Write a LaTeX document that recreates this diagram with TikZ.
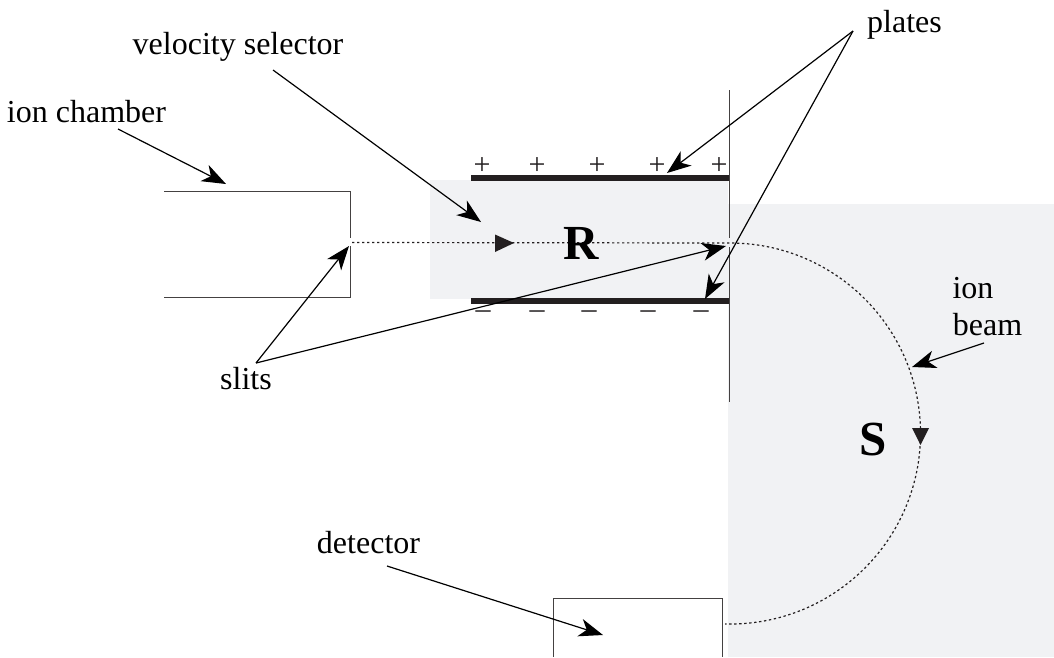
\documentclass[tikz,border=0pt]{standalone}
\usepackage{fontspec}
\setmainfont{Liberation Serif}
\usetikzlibrary{arrows.meta}
\definecolor{ink}{HTML}{231F20}
\definecolor{field}{HTML}{F1F2F4}
\tikzset{
  x=1pt,y=-1pt,
  lbl/.style={inner sep=0pt,anchor=base,text=black,font=\fontsize{32}{36}\selectfont},
  bigl/.style={inner sep=0pt,text=black,font=\fontsize{49}{52}\selectfont\bfseries},
  sgn/.style={inner sep=0pt,text=ink,font=\fontsize{30}{34}\selectfont},
  callout/.style={draw=black,line width=1.2pt,-{Stealth[length=24pt,width=18pt,inset=7pt]}},
  wall/.style={draw=ink!85,line width=1pt},
  plate/.style={draw=ink,line width=5.4pt},
  beam/.style={draw=ink,line width=1.2pt,dash pattern=on 2.4pt off 2.6pt},
  head/.style={fill=ink,draw=none},
}
\begin{document}
\begin{tikzpicture}
\useasboundingbox (0,0) rectangle (1054,657);
% fields
\fill[field] (430,180) rectangle (728,299);
\fill[field] (728,204) rectangle (1054,657);
% ion chamber
\draw[wall] (164,191) -- (350,191) -- (350,238);
\draw[wall] (350,246) -- (350,297) -- (164,297);
% plates and wall
\coordinate (pt0) at (471,178); \coordinate (pt1) at (729,178);
\coordinate (pb0) at (471,301); \coordinate (pb1) at (729,301);
\draw[plate] (pt0) -- (pt1);
\draw[plate] (pb0) -- (pb1);
\draw[wall] (729,90) -- (729,238);
\draw[wall] (729,247) -- (729,402);
% detector
\draw[wall] (553.5,657) -- (553.5,598) -- (722.5,598) -- (722.5,657);
% beam
\coordinate (b0) at (352,242.5); \coordinate (b1) at (730,243);
\draw[beam] (b0) -- (b1) arc[start angle=90,end angle=-90,radius=190.5pt] -- (725,624);
\fill[head] (495,234.5) -- (514,243) -- (495,252) -- cycle;
\fill[head] (912,428) -- (929,428) -- (920.5,445) -- cycle;
% signs
\foreach \n/\x in {1/482,2/537,3/597,4/657,5/719}{\node[sgn] (plus\n) at (\x,166) {+};}
\foreach \n/\x in {1/483,2/537,3/589,4/648,5/701}{\node[sgn] (minus\n) at (\x,315) {–};}
% big letters
\node[bigl] (R) at (581,243) {R};
\node[bigl] (S) at (873,440) {S};
% labels
\node[lbl] (vel) at (238,54) {velocity selector};
\node[lbl] (chamber) at (86.5,122) {ion chamber};
\node[lbl] (plates) at (904.5,32) {plates};
\node[lbl] (slits) at (246,389) {slits};
\node[lbl] (ion) at (973,298) {ion};
\node[lbl] (ibeam) at (987.5,335) {beam};
\node[lbl] (det) at (368.5,553) {detector};
% callouts
\coordinate (cvel) at (273,70); \coordinate (cvelT) at (481,222);
\coordinate (ccha) at (118,129); \coordinate (cchaT) at (226,184);
\coordinate (cpla) at (853,31); \coordinate (cplaA) at (667,173); \coordinate (cplaB) at (705,299);
\coordinate (csli) at (256,363); \coordinate (csliA) at (349,246); \coordinate (csliB) at (726,246);
\coordinate (cdet) at (387,566); \coordinate (cdetT) at (603,635);
\coordinate (cion) at (984,343); \coordinate (cionT) at (912,367);
\draw[callout] (cvel) -- (cvelT);
\draw[callout] (ccha) -- (cchaT);
\draw[callout] (cpla) -- (cplaA);
\draw[callout] (cpla) -- (cplaB);
\draw[callout] (csli) -- (csliA);
\draw[callout] (csli) -- (csliB);
\draw[callout] (cdet) -- (cdetT);
\draw[callout] (cion) -- (cionT);
\end{tikzpicture}
\end{document}
